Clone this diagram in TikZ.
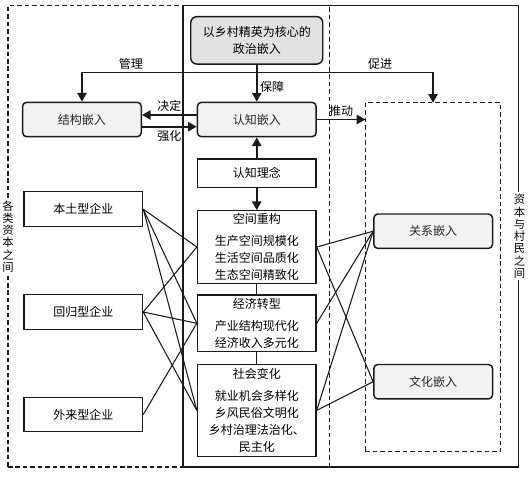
\documentclass[tikz,border=0pt]{standalone}
\usepackage{fontspec}
\newfontfamily\cjkfont{Noto Sans CJK SC}
\usepackage{xcolor}
\definecolor{embline}{HTML}{1A1A1A}
\definecolor{embtext}{HTML}{262626}
\definecolor{embfill}{HTML}{F2F2F2}
\definecolor{polfill}{HTML}{E2E2E2}
\usetikzlibrary{arrows.meta,positioning}
\tikzset{
  polbox/.style={
    draw=embline, fill=polfill, rounded corners=4.5pt, line width=1.1pt,
    minimum width=99pt, minimum height=35.5pt,
    align=center, font=\fontsize{9}{12.5}\selectfont\cjkfont, inner sep=2pt
  },
  embedbox/.style={
    draw=embline, fill=embfill, rounded corners=3pt, line width=1.1pt,
    minimum width=89pt, minimum height=25.8pt, text=embtext,
    align=center, font=\fontsize{9}{11}\selectfont\cjkfont, inner sep=2pt
  },
  firmbox/.style={
    draw=embline, fill=white, line width=0.9pt,
    minimum width=89pt, minimum height=26pt,
    align=center, font=\fontsize{9}{11}\selectfont\cjkfont, inner sep=2pt
  },
  changebox/.style={
    draw=embline, fill=white, line width=0.9pt,
    minimum width=89pt,
    align=center, font=\fontsize{9}{12.75}\selectfont\cjkfont, inner sep=2pt
  },
  zonedash/.style={draw=embline, line width=1pt, dash pattern=on 3.4pt off 2.2pt,
    inner sep=0pt, outer sep=0pt},
  zonesolid/.style={draw=embline, line width=1pt, inner sep=0pt, outer sep=0pt},
  zonelabel/.style={fill=white, align=center,
    font=\fontsize{8.5}{9.2}\selectfont\cjkfont, inner sep=1.5pt},
  ctrlarr/.style={-{Triangle[length=6.5pt,width=7pt]}, draw=embline, line width=1.2pt},
  linkline/.style={draw=embline, line width=0.8pt},
  arrlabel/.style={font=\fontsize{9}{11}\selectfont\cjkfont, inner sep=2pt}
}

\begin{document}
\begin{tikzpicture}[x=0.75pt,y=-0.75pt]
  \useasboundingbox (0,0) rectangle (531,479);

  %% ---- Zones ----
  \node[zonedash, minimum width=241pt, minimum height=346pt] (capz) at (168.65,236.35) {};
  \node[zonesolid, minimum width=251.5pt, minimum height=346pt] (vilz) at (350.65,236.35) {};
  \node[zonedash, minimum width=101.5pt, minimum height=261.75pt] (vz) at (433,277.2) {};
  \node[zonelabel] (capl) at (capz.west) {各\\类\\资\\本\\之\\间};
  \node[zonelabel] (vill) at ([xshift=1pt]vilz.east) {资\\本\\与\\村\\民\\之\\间};

  %% ---- Political embedding ----
  \node[polbox] (pol) at (256.75,40.35) {以乡村精英为核心的\\政治嵌入};

  %% ---- Cognitive embedding ----
  \node[embedbox] (cog) at (256.75,119.5) {认知嵌入};
  \node[embedbox, left=41pt of cog] (struct) {结构嵌入};

  %% ---- Middle column ----
  \node[changebox, minimum height=21.2pt] (idea) at (256.75,173.2) {认知理念};
  \node[changebox, minimum height=54.5pt] (space) at (256.75,247) {
    空间重构\\[3.5pt]
    生产空间规模化\\
    生活空间品质化\\
    生态空间精致化
  };
  \node[changebox, minimum height=42.5pt] (econ) at (256.75,323.3) {
    经济转型\\[3.5pt]
    产业结构现代化\\
    经济收入多元化
  };
  \node[changebox, minimum height=69.2pt] (soc) at (256.75,410.4) {
    社会变化\\[3.5pt]
    就业机会多样化\\
    乡风民俗文明化\\
    乡村治理法治化、\\
    民主化
  };

  %% ---- Firms ----
  \node[firmbox] (bentu) at (83.35,209.2) {本土型企业};
  \node[firmbox] (huigui) at (83.35,312) {回归型企业};
  \node[firmbox] (wailai) at (83.35,414.5) {外来型企业};

  %% ---- Relation / culture ----
  \node[embedbox] (rel) at (433.2,231.2) {关系嵌入};
  \node[embedbox] (cul) at (433.2,381.7) {文化嵌入};

  %% Relationships
  \coordinate (fork) at ([yshift=-5.8pt]pol.south);
  \draw[ctrlarr] (pol.south) -- (cog.north)
    node[pos=0.6,right,arrlabel]{保障};
  \draw[ctrlarr] (fork) -| (struct.north)
    node[pos=0.36,above,arrlabel]{管理};
  \draw[ctrlarr] (fork) -| (vz.north)
    node[pos=0.35,above,arrlabel]{促进};

  \draw[ctrlarr] ([yshift=3.4pt]cog.west) -- ([yshift=3.4pt]struct.east)
    node[midway,above,arrlabel]{决定};
  \draw[ctrlarr] ([yshift=-5.4pt]struct.east) -- ([yshift=-5.4pt]cog.west)
    node[midway,below,arrlabel]{强化};
  \draw[ctrlarr] (cog.east) -- (cog.east -| vz.west)
    node[midway,above,arrlabel]{推动};

  \draw[ctrlarr] (idea) -- (cog);
  \draw[ctrlarr] (idea) -- (space);
  \draw[linkline] (space) -- (econ);
  \draw[linkline] (econ) -- (soc);

  \draw[linkline] (bentu.east) -- (space.west);
  \draw[linkline] (bentu.east) -- (econ.west);
  \draw[linkline] (bentu.east) -- (soc.west);
  \draw[linkline] (huigui.east) -- (space.west);
  \draw[linkline] (huigui.east) -- (econ.west);
  \draw[linkline] (huigui.east) -- (soc.west);
  \draw[linkline] (wailai.east) -- (econ.west);

  \draw[linkline] (space.east) -- (rel.west);
  \draw[linkline] (space.east) -- (cul.west);
  \draw[linkline] (econ.east) -- (rel.west);
  \draw[linkline] (soc.east) -- (rel.west);
  \draw[linkline] (soc.east) -- (cul.west);

\end{tikzpicture}
\end{document}
